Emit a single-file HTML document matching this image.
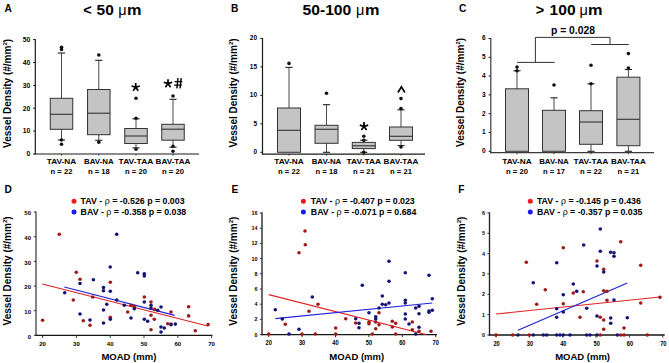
<!DOCTYPE html><html><head><meta charset="utf-8"><style>html,body{margin:0;padding:0;background:#fff;width:669px;height:363px;overflow:hidden}svg{display:block}text{font-family:"Liberation Sans",sans-serif}</style></head><body>
<svg width="669" height="363" viewBox="0 0 669 363">
<rect width="669" height="363" fill="#fff"/>
<line x1="35.30" y1="38.90" x2="35.30" y2="154.60" stroke="#1a1a1a" stroke-width="1.2"/>
<line x1="34.70" y1="154.00" x2="199.00" y2="154.00" stroke="#1a1a1a" stroke-width="1.2"/>
<line x1="33.10" y1="154.00" x2="35.30" y2="154.00" stroke="#1a1a1a" stroke-width="1.0"/>
<text x="30.20" y="156.41" font-size="6.7" text-anchor="end" font-weight="bold" fill="#000" >0</text>
<line x1="33.10" y1="131.00" x2="35.30" y2="131.00" stroke="#1a1a1a" stroke-width="1.0"/>
<text x="30.20" y="133.41" font-size="6.7" text-anchor="end" font-weight="bold" fill="#000" >10</text>
<line x1="33.10" y1="108.20" x2="35.30" y2="108.20" stroke="#1a1a1a" stroke-width="1.0"/>
<text x="30.20" y="110.61" font-size="6.7" text-anchor="end" font-weight="bold" fill="#000" >20</text>
<line x1="33.10" y1="85.40" x2="35.30" y2="85.40" stroke="#1a1a1a" stroke-width="1.0"/>
<text x="30.20" y="87.81" font-size="6.7" text-anchor="end" font-weight="bold" fill="#000" >30</text>
<line x1="33.10" y1="62.50" x2="35.30" y2="62.50" stroke="#1a1a1a" stroke-width="1.0"/>
<text x="30.20" y="64.91" font-size="6.7" text-anchor="end" font-weight="bold" fill="#000" >40</text>
<line x1="33.10" y1="39.60" x2="35.30" y2="39.60" stroke="#1a1a1a" stroke-width="1.0"/>
<text x="30.20" y="42.01" font-size="6.7" text-anchor="end" font-weight="bold" fill="#000" >50</text>
<line x1="61.50" y1="154.00" x2="61.50" y2="155.60" stroke="#1a1a1a" stroke-width="0.8"/>
<line x1="61.50" y1="53.00" x2="61.50" y2="98.30" stroke="#4a4a4a" stroke-width="1"/>
<line x1="57.90" y1="53.00" x2="65.10" y2="53.00" stroke="#222" stroke-width="1.1"/>
<line x1="61.50" y1="129.30" x2="61.50" y2="140.00" stroke="#4a4a4a" stroke-width="1"/>
<line x1="57.90" y1="140.00" x2="65.10" y2="140.00" stroke="#222" stroke-width="1.1"/>
<rect x="50.25" y="98.30" width="22.50" height="31.00" fill="#c4c4c4" stroke="#333" stroke-width="1"/>
<line x1="50.25" y1="114.30" x2="72.75" y2="114.30" stroke="#333" stroke-width="1.1"/>
<circle cx="61.50" cy="47.30" r="1.8" fill="#111"/>
<circle cx="61.50" cy="49.40" r="1.8" fill="#111"/>
<circle cx="61.50" cy="140.00" r="1.8" fill="#111"/>
<circle cx="61.50" cy="144.30" r="1.8" fill="#111"/>
<text x="61.50" y="163.80" font-size="7.6" text-anchor="middle" font-weight="bold" fill="#000"  textLength="29.60" lengthAdjust="spacingAndGlyphs">TAV-NA</text>
<text x="61.50" y="173.50" font-size="7.6" text-anchor="middle" font-weight="bold" fill="#000"  textLength="21.80" lengthAdjust="spacingAndGlyphs">n = 22</text>
<line x1="98.80" y1="154.00" x2="98.80" y2="155.60" stroke="#1a1a1a" stroke-width="0.8"/>
<line x1="98.80" y1="60.30" x2="98.80" y2="89.50" stroke="#4a4a4a" stroke-width="1"/>
<line x1="95.20" y1="60.30" x2="102.40" y2="60.30" stroke="#222" stroke-width="1.1"/>
<line x1="98.80" y1="134.70" x2="98.80" y2="140.30" stroke="#4a4a4a" stroke-width="1"/>
<line x1="95.20" y1="140.30" x2="102.40" y2="140.30" stroke="#222" stroke-width="1.1"/>
<rect x="87.55" y="89.50" width="22.50" height="45.20" fill="#c4c4c4" stroke="#333" stroke-width="1"/>
<line x1="87.55" y1="113.20" x2="110.05" y2="113.20" stroke="#333" stroke-width="1.1"/>
<circle cx="98.80" cy="55.00" r="1.8" fill="#111"/>
<circle cx="98.80" cy="142.30" r="1.8" fill="#111"/>
<text x="98.80" y="163.80" font-size="7.6" text-anchor="middle" font-weight="bold" fill="#000"  textLength="29.60" lengthAdjust="spacingAndGlyphs">BAV-NA</text>
<text x="98.80" y="173.50" font-size="7.6" text-anchor="middle" font-weight="bold" fill="#000"  textLength="21.80" lengthAdjust="spacingAndGlyphs">n = 18</text>
<line x1="136.00" y1="154.00" x2="136.00" y2="155.60" stroke="#1a1a1a" stroke-width="0.8"/>
<line x1="136.00" y1="118.80" x2="136.00" y2="128.50" stroke="#4a4a4a" stroke-width="1"/>
<line x1="132.40" y1="118.80" x2="139.60" y2="118.80" stroke="#222" stroke-width="1.1"/>
<line x1="136.00" y1="143.50" x2="136.00" y2="147.90" stroke="#4a4a4a" stroke-width="1"/>
<line x1="132.40" y1="147.90" x2="139.60" y2="147.90" stroke="#222" stroke-width="1.1"/>
<rect x="124.75" y="128.50" width="22.50" height="15.00" fill="#c4c4c4" stroke="#333" stroke-width="1"/>
<line x1="124.75" y1="136.00" x2="147.25" y2="136.00" stroke="#333" stroke-width="1.1"/>
<circle cx="136.00" cy="98.30" r="1.8" fill="#111"/>
<circle cx="136.00" cy="118.30" r="1.8" fill="#111"/>
<circle cx="136.00" cy="149.30" r="1.8" fill="#111"/>
<text x="136.00" y="163.80" font-size="7.6" text-anchor="middle" font-weight="bold" fill="#000"  textLength="34.80" lengthAdjust="spacingAndGlyphs">TAV-TAA</text>
<text x="136.00" y="173.50" font-size="7.6" text-anchor="middle" font-weight="bold" fill="#000"  textLength="21.80" lengthAdjust="spacingAndGlyphs">n = 20</text>
<line x1="173.00" y1="154.00" x2="173.00" y2="155.60" stroke="#1a1a1a" stroke-width="0.8"/>
<line x1="173.00" y1="99.30" x2="173.00" y2="124.30" stroke="#4a4a4a" stroke-width="1"/>
<line x1="169.40" y1="99.30" x2="176.60" y2="99.30" stroke="#222" stroke-width="1.1"/>
<line x1="173.00" y1="140.20" x2="173.00" y2="147.20" stroke="#4a4a4a" stroke-width="1"/>
<line x1="169.40" y1="147.20" x2="176.60" y2="147.20" stroke="#222" stroke-width="1.1"/>
<rect x="161.75" y="124.30" width="22.50" height="15.90" fill="#c4c4c4" stroke="#333" stroke-width="1"/>
<line x1="161.75" y1="129.20" x2="184.25" y2="129.20" stroke="#333" stroke-width="1.1"/>
<circle cx="173.00" cy="96.00" r="1.8" fill="#111"/>
<circle cx="173.00" cy="146.20" r="1.8" fill="#111"/>
<circle cx="173.00" cy="151.30" r="1.8" fill="#111"/>
<text x="173.00" y="163.80" font-size="7.6" text-anchor="middle" font-weight="bold" fill="#000"  textLength="34.80" lengthAdjust="spacingAndGlyphs">BAV-TAA</text>
<text x="173.00" y="173.50" font-size="7.6" text-anchor="middle" font-weight="bold" fill="#000"  textLength="21.80" lengthAdjust="spacingAndGlyphs">n = 20</text>
<text x="4.50" y="11.80" font-size="10.2" text-anchor="start" font-weight="bold" fill="#000" >A</text>
<text x="83.30" y="15.00" font-size="14.5" text-anchor="start" font-weight="bold" fill="#000" >&lt;</text>
<text x="96.60" y="15.00" font-size="14.5" text-anchor="start" font-weight="bold" fill="#000"  textLength="17.20" lengthAdjust="spacingAndGlyphs">50</text>
<text x="118.20" y="15.00" font-size="14.5" text-anchor="start" font-weight="normal" fill="#000" >μ</text>
<text x="127.10" y="15.00" font-size="14.5" text-anchor="start" font-weight="bold" fill="#000"  textLength="14.50" lengthAdjust="spacingAndGlyphs">m</text>
<text transform="translate(10.90,93.35) rotate(-90)" font-size="10.0" font-weight="bold" text-anchor="middle">Vessel Density (#/mm<tspan font-size="6.20" dy="-3.80">2</tspan><tspan dy="3.80">)</tspan></text>
<line x1="262.50" y1="37.90" x2="262.50" y2="154.70" stroke="#1a1a1a" stroke-width="1.2"/>
<line x1="261.90" y1="154.10" x2="425.00" y2="154.10" stroke="#1a1a1a" stroke-width="1.2"/>
<line x1="260.30" y1="152.30" x2="262.50" y2="152.30" stroke="#1a1a1a" stroke-width="1.0"/>
<text x="257.00" y="154.25" font-size="6.5" text-anchor="end" font-weight="bold" fill="#000" >0</text>
<line x1="260.30" y1="123.85" x2="262.50" y2="123.85" stroke="#1a1a1a" stroke-width="1.0"/>
<text x="257.00" y="125.80" font-size="6.5" text-anchor="end" font-weight="bold" fill="#000" >5</text>
<line x1="260.30" y1="95.40" x2="262.50" y2="95.40" stroke="#1a1a1a" stroke-width="1.0"/>
<text x="257.00" y="97.35" font-size="6.5" text-anchor="end" font-weight="bold" fill="#000" >10</text>
<line x1="260.30" y1="66.95" x2="262.50" y2="66.95" stroke="#1a1a1a" stroke-width="1.0"/>
<text x="257.00" y="68.90" font-size="6.5" text-anchor="end" font-weight="bold" fill="#000" >15</text>
<line x1="260.30" y1="38.50" x2="262.50" y2="38.50" stroke="#1a1a1a" stroke-width="1.0"/>
<text x="257.00" y="40.45" font-size="6.5" text-anchor="end" font-weight="bold" fill="#000" >20</text>
<line x1="289.00" y1="154.10" x2="289.00" y2="155.70" stroke="#1a1a1a" stroke-width="0.8"/>
<line x1="289.00" y1="67.40" x2="289.00" y2="108.00" stroke="#4a4a4a" stroke-width="1"/>
<line x1="285.40" y1="67.40" x2="292.60" y2="67.40" stroke="#222" stroke-width="1.1"/>
<rect x="277.50" y="108.00" width="23.00" height="44.30" fill="#c4c4c4" stroke="#333" stroke-width="1"/>
<line x1="277.50" y1="130.30" x2="300.50" y2="130.30" stroke="#333" stroke-width="1.1"/>
<circle cx="289.00" cy="63.40" r="1.8" fill="#111"/>
<text x="289.00" y="163.90" font-size="7.6" text-anchor="middle" font-weight="bold" fill="#000"  textLength="29.60" lengthAdjust="spacingAndGlyphs">TAV-NA</text>
<text x="289.00" y="173.60" font-size="7.6" text-anchor="middle" font-weight="bold" fill="#000"  textLength="21.80" lengthAdjust="spacingAndGlyphs">n = 22</text>
<line x1="326.50" y1="154.10" x2="326.50" y2="155.70" stroke="#1a1a1a" stroke-width="0.8"/>
<line x1="326.50" y1="104.70" x2="326.50" y2="125.30" stroke="#4a4a4a" stroke-width="1"/>
<line x1="322.90" y1="104.70" x2="330.10" y2="104.70" stroke="#222" stroke-width="1.1"/>
<line x1="326.50" y1="143.30" x2="326.50" y2="152.30" stroke="#4a4a4a" stroke-width="1"/>
<line x1="322.90" y1="152.30" x2="330.10" y2="152.30" stroke="#222" stroke-width="1.1"/>
<rect x="315.00" y="125.30" width="23.00" height="18.00" fill="#c4c4c4" stroke="#333" stroke-width="1"/>
<line x1="315.00" y1="129.30" x2="338.00" y2="129.30" stroke="#333" stroke-width="1.1"/>
<circle cx="326.50" cy="93.30" r="1.8" fill="#111"/>
<text x="326.50" y="163.90" font-size="7.6" text-anchor="middle" font-weight="bold" fill="#000"  textLength="29.60" lengthAdjust="spacingAndGlyphs">BAV-NA</text>
<text x="326.50" y="173.60" font-size="7.6" text-anchor="middle" font-weight="bold" fill="#000"  textLength="21.80" lengthAdjust="spacingAndGlyphs">n = 18</text>
<line x1="363.80" y1="154.10" x2="363.80" y2="155.70" stroke="#1a1a1a" stroke-width="0.8"/>
<line x1="363.80" y1="140.20" x2="363.80" y2="142.40" stroke="#4a4a4a" stroke-width="1"/>
<line x1="360.20" y1="140.20" x2="367.40" y2="140.20" stroke="#222" stroke-width="1.1"/>
<line x1="363.80" y1="148.60" x2="363.80" y2="152.30" stroke="#4a4a4a" stroke-width="1"/>
<line x1="360.20" y1="152.30" x2="367.40" y2="152.30" stroke="#222" stroke-width="1.1"/>
<rect x="352.30" y="142.40" width="23.00" height="6.20" fill="#c4c4c4" stroke="#333" stroke-width="1"/>
<line x1="352.30" y1="145.80" x2="375.30" y2="145.80" stroke="#333" stroke-width="1.1"/>
<circle cx="363.80" cy="136.30" r="1.8" fill="#111"/>
<circle cx="363.80" cy="140.20" r="1.8" fill="#111"/>
<circle cx="363.80" cy="152.30" r="1.8" fill="#111"/>
<text x="363.80" y="163.90" font-size="7.6" text-anchor="middle" font-weight="bold" fill="#000"  textLength="34.80" lengthAdjust="spacingAndGlyphs">TAV-TAA</text>
<text x="363.80" y="173.60" font-size="7.6" text-anchor="middle" font-weight="bold" fill="#000"  textLength="21.80" lengthAdjust="spacingAndGlyphs">n = 21</text>
<line x1="401.00" y1="154.10" x2="401.00" y2="155.70" stroke="#1a1a1a" stroke-width="0.8"/>
<line x1="401.00" y1="109.80" x2="401.00" y2="127.00" stroke="#4a4a4a" stroke-width="1"/>
<line x1="397.40" y1="109.80" x2="404.60" y2="109.80" stroke="#222" stroke-width="1.1"/>
<line x1="401.00" y1="140.30" x2="401.00" y2="145.60" stroke="#4a4a4a" stroke-width="1"/>
<line x1="397.40" y1="145.60" x2="404.60" y2="145.60" stroke="#222" stroke-width="1.1"/>
<rect x="389.50" y="127.00" width="23.00" height="13.30" fill="#c4c4c4" stroke="#333" stroke-width="1"/>
<line x1="389.50" y1="136.30" x2="412.50" y2="136.30" stroke="#333" stroke-width="1.1"/>
<circle cx="401.00" cy="98.60" r="1.8" fill="#111"/>
<circle cx="401.00" cy="108.60" r="1.8" fill="#111"/>
<circle cx="401.00" cy="147.00" r="1.8" fill="#111"/>
<text x="401.00" y="163.90" font-size="7.6" text-anchor="middle" font-weight="bold" fill="#000"  textLength="34.80" lengthAdjust="spacingAndGlyphs">BAV-TAA</text>
<text x="401.00" y="173.60" font-size="7.6" text-anchor="middle" font-weight="bold" fill="#000"  textLength="21.80" lengthAdjust="spacingAndGlyphs">n = 21</text>
<text x="231.00" y="11.80" font-size="10.2" text-anchor="start" font-weight="bold" fill="#000" >B</text>
<text x="302.50" y="15.00" font-size="14.5" text-anchor="start" font-weight="bold" fill="#000"  textLength="48.80" lengthAdjust="spacingAndGlyphs">50-100</text>
<text x="356.00" y="15.00" font-size="14.5" text-anchor="start" font-weight="normal" fill="#000" >μ</text>
<text x="365.00" y="15.00" font-size="14.5" text-anchor="start" font-weight="bold" fill="#000"  textLength="14.50" lengthAdjust="spacingAndGlyphs">m</text>
<text transform="translate(237.10,92.85) rotate(-90)" font-size="10.0" font-weight="bold" text-anchor="middle">Vessel Density (#/mm<tspan font-size="6.20" dy="-3.80">2</tspan><tspan dy="3.80">)</tspan></text>
<line x1="490.80" y1="37.90" x2="490.80" y2="153.30" stroke="#3a3a3a" stroke-width="1.2"/>
<line x1="490.20" y1="152.70" x2="654.00" y2="152.70" stroke="#3a3a3a" stroke-width="1.2"/>
<line x1="488.60" y1="151.30" x2="490.80" y2="151.30" stroke="#1a1a1a" stroke-width="1.0"/>
<text x="485.60" y="153.25" font-size="6.5" text-anchor="end" font-weight="bold" fill="#000" >0</text>
<line x1="488.60" y1="132.50" x2="490.80" y2="132.50" stroke="#1a1a1a" stroke-width="1.0"/>
<text x="485.60" y="134.45" font-size="6.5" text-anchor="end" font-weight="bold" fill="#000" >1</text>
<line x1="488.60" y1="113.70" x2="490.80" y2="113.70" stroke="#1a1a1a" stroke-width="1.0"/>
<text x="485.60" y="115.65" font-size="6.5" text-anchor="end" font-weight="bold" fill="#000" >2</text>
<line x1="488.60" y1="94.90" x2="490.80" y2="94.90" stroke="#1a1a1a" stroke-width="1.0"/>
<text x="485.60" y="96.85" font-size="6.5" text-anchor="end" font-weight="bold" fill="#000" >3</text>
<line x1="488.60" y1="76.10" x2="490.80" y2="76.10" stroke="#1a1a1a" stroke-width="1.0"/>
<text x="485.60" y="78.05" font-size="6.5" text-anchor="end" font-weight="bold" fill="#000" >4</text>
<line x1="488.60" y1="57.30" x2="490.80" y2="57.30" stroke="#1a1a1a" stroke-width="1.0"/>
<text x="485.60" y="59.25" font-size="6.5" text-anchor="end" font-weight="bold" fill="#000" >5</text>
<line x1="488.60" y1="38.50" x2="490.80" y2="38.50" stroke="#1a1a1a" stroke-width="1.0"/>
<text x="485.60" y="40.45" font-size="6.5" text-anchor="end" font-weight="bold" fill="#000" >6</text>
<line x1="517.00" y1="152.70" x2="517.00" y2="154.30" stroke="#1a1a1a" stroke-width="0.8"/>
<line x1="517.00" y1="70.80" x2="517.00" y2="88.80" stroke="#4a4a4a" stroke-width="1"/>
<line x1="513.40" y1="70.80" x2="520.60" y2="70.80" stroke="#222" stroke-width="1.1"/>
<rect x="505.50" y="88.80" width="23.00" height="62.50" fill="#c4c4c4" stroke="#333" stroke-width="1"/>
<circle cx="517.00" cy="67.10" r="1.8" fill="#111"/>
<circle cx="517.00" cy="70.80" r="1.8" fill="#111"/>
<text x="517.00" y="163.90" font-size="7.6" text-anchor="middle" font-weight="bold" fill="#000"  textLength="29.60" lengthAdjust="spacingAndGlyphs">TAV-NA</text>
<text x="517.00" y="173.60" font-size="7.6" text-anchor="middle" font-weight="bold" fill="#000"  textLength="21.80" lengthAdjust="spacingAndGlyphs">n = 20</text>
<line x1="554.00" y1="152.70" x2="554.00" y2="154.30" stroke="#1a1a1a" stroke-width="0.8"/>
<line x1="554.00" y1="97.80" x2="554.00" y2="110.30" stroke="#4a4a4a" stroke-width="1"/>
<line x1="550.40" y1="97.80" x2="557.60" y2="97.80" stroke="#222" stroke-width="1.1"/>
<rect x="542.50" y="110.30" width="23.00" height="41.00" fill="#c4c4c4" stroke="#333" stroke-width="1"/>
<circle cx="554.00" cy="85.00" r="1.8" fill="#111"/>
<text x="554.00" y="163.90" font-size="7.6" text-anchor="middle" font-weight="bold" fill="#000"  textLength="29.60" lengthAdjust="spacingAndGlyphs">BAV-NA</text>
<text x="554.00" y="173.60" font-size="7.6" text-anchor="middle" font-weight="bold" fill="#000"  textLength="21.80" lengthAdjust="spacingAndGlyphs">n = 17</text>
<line x1="591.00" y1="152.70" x2="591.00" y2="154.30" stroke="#1a1a1a" stroke-width="0.8"/>
<line x1="591.00" y1="83.80" x2="591.00" y2="110.70" stroke="#4a4a4a" stroke-width="1"/>
<line x1="587.40" y1="83.80" x2="594.60" y2="83.80" stroke="#222" stroke-width="1.1"/>
<line x1="591.00" y1="144.30" x2="591.00" y2="151.30" stroke="#4a4a4a" stroke-width="1"/>
<line x1="587.40" y1="151.30" x2="594.60" y2="151.30" stroke="#222" stroke-width="1.1"/>
<rect x="579.50" y="110.70" width="23.00" height="33.60" fill="#c4c4c4" stroke="#333" stroke-width="1"/>
<line x1="579.50" y1="122.00" x2="602.50" y2="122.00" stroke="#333" stroke-width="1.1"/>
<circle cx="591.00" cy="65.30" r="1.8" fill="#111"/>
<circle cx="591.00" cy="83.80" r="1.8" fill="#111"/>
<text x="591.00" y="163.90" font-size="7.6" text-anchor="middle" font-weight="bold" fill="#000"  textLength="34.80" lengthAdjust="spacingAndGlyphs">TAV-TAA</text>
<text x="591.00" y="173.60" font-size="7.6" text-anchor="middle" font-weight="bold" fill="#000"  textLength="21.80" lengthAdjust="spacingAndGlyphs">n = 22</text>
<line x1="628.40" y1="152.70" x2="628.40" y2="154.30" stroke="#1a1a1a" stroke-width="0.8"/>
<line x1="628.40" y1="69.50" x2="628.40" y2="77.20" stroke="#4a4a4a" stroke-width="1"/>
<line x1="624.80" y1="69.50" x2="632.00" y2="69.50" stroke="#222" stroke-width="1.1"/>
<line x1="628.40" y1="145.70" x2="628.40" y2="151.30" stroke="#4a4a4a" stroke-width="1"/>
<line x1="624.80" y1="151.30" x2="632.00" y2="151.30" stroke="#222" stroke-width="1.1"/>
<rect x="616.90" y="77.20" width="23.00" height="68.50" fill="#c4c4c4" stroke="#333" stroke-width="1"/>
<line x1="616.90" y1="119.30" x2="639.90" y2="119.30" stroke="#333" stroke-width="1.1"/>
<circle cx="628.40" cy="53.60" r="1.8" fill="#111"/>
<circle cx="628.40" cy="68.00" r="1.8" fill="#111"/>
<text x="628.40" y="163.90" font-size="7.6" text-anchor="middle" font-weight="bold" fill="#000"  textLength="34.80" lengthAdjust="spacingAndGlyphs">BAV-TAA</text>
<text x="628.40" y="173.60" font-size="7.6" text-anchor="middle" font-weight="bold" fill="#000"  textLength="21.80" lengthAdjust="spacingAndGlyphs">n = 21</text>
<text x="459.00" y="11.80" font-size="10.2" text-anchor="start" font-weight="bold" fill="#000" >C</text>
<text x="535.80" y="15.00" font-size="14.5" text-anchor="start" font-weight="bold" fill="#000" >&gt;</text>
<text x="549.60" y="15.00" font-size="14.5" text-anchor="start" font-weight="bold" fill="#000"  textLength="26.00" lengthAdjust="spacingAndGlyphs">100</text>
<text x="579.60" y="15.00" font-size="14.5" text-anchor="start" font-weight="normal" fill="#000" >μ</text>
<text x="587.90" y="15.00" font-size="14.5" text-anchor="start" font-weight="bold" fill="#000"  textLength="14.50" lengthAdjust="spacingAndGlyphs">m</text>
<text transform="translate(464.10,92.45) rotate(-90)" font-size="10.0" font-weight="bold" text-anchor="middle">Vessel Density (#/mm<tspan font-size="6.20" dy="-3.80">2</tspan><tspan dy="3.80">)</tspan></text>
<path d="M135.70 87.30L135.70 82.90M135.70 87.30L139.88 85.94M135.70 87.30L138.29 90.86M135.70 87.30L133.11 90.86M135.70 87.30L131.52 85.94" stroke="#000" stroke-width="1.7" stroke-linecap="butt" fill="none"/>
<path d="M168.00 83.60L168.00 79.20M168.00 83.60L172.18 82.24M168.00 83.60L170.59 87.16M168.00 83.60L165.41 87.16M168.00 83.60L163.82 82.24" stroke="#000" stroke-width="1.7" stroke-linecap="butt" fill="none"/>
<path d="M176.9 88.4L178.0 78.2M180.1 88.4L181.2 78.2M174.6 81.6H182.2M174.2 85.1H181.8" stroke="#000" stroke-width="1.45" fill="none"/>
<path d="M364.00 126.50L364.00 122.10M364.00 126.50L368.18 125.14M364.00 126.50L366.59 130.06M364.00 126.50L361.41 130.06M364.00 126.50L359.82 125.14" stroke="#000" stroke-width="1.7" stroke-linecap="butt" fill="none"/>
<path d="M397.9 92.5L401.4 86.9L404.9 92.5" stroke="#000" stroke-width="1.7" fill="none"/>
<line x1="517.00" y1="62.40" x2="554.70" y2="62.40" stroke="#333" stroke-width="1"/>
<line x1="535.40" y1="37.40" x2="535.40" y2="62.40" stroke="#333" stroke-width="1"/>
<line x1="535.40" y1="37.40" x2="610.00" y2="37.40" stroke="#333" stroke-width="1"/>
<line x1="610.00" y1="37.40" x2="610.00" y2="44.50" stroke="#333" stroke-width="1"/>
<line x1="591.20" y1="44.50" x2="628.70" y2="44.50" stroke="#333" stroke-width="1"/>
<text x="573.00" y="34.30" font-size="10.3" text-anchor="middle" font-weight="bold" fill="#000" >p = 0.028</text>
<line x1="36.00" y1="211.40" x2="36.00" y2="336.00" stroke="#4a4a4a" stroke-width="1.35"/>
<line x1="35.40" y1="335.30" x2="212.50" y2="335.30" stroke="#151515" stroke-width="1.35"/>
<line x1="33.90" y1="335.30" x2="36.00" y2="335.30" stroke="#333" stroke-width="1.0"/>
<text x="31.00" y="338.60" font-size="6.0" text-anchor="end" font-weight="bold" fill="#000" >0</text>
<line x1="33.90" y1="310.70" x2="36.00" y2="310.70" stroke="#333" stroke-width="1.0"/>
<text x="31.00" y="314.00" font-size="6.0" text-anchor="end" font-weight="bold" fill="#000" >10</text>
<line x1="33.90" y1="286.00" x2="36.00" y2="286.00" stroke="#333" stroke-width="1.0"/>
<text x="31.00" y="289.30" font-size="6.0" text-anchor="end" font-weight="bold" fill="#000" >20</text>
<line x1="33.90" y1="261.40" x2="36.00" y2="261.40" stroke="#333" stroke-width="1.0"/>
<text x="31.00" y="264.70" font-size="6.0" text-anchor="end" font-weight="bold" fill="#000" >30</text>
<line x1="33.90" y1="236.70" x2="36.00" y2="236.70" stroke="#333" stroke-width="1.0"/>
<text x="31.00" y="240.00" font-size="6.0" text-anchor="end" font-weight="bold" fill="#000" >40</text>
<line x1="33.90" y1="212.10" x2="36.00" y2="212.10" stroke="#333" stroke-width="1.0"/>
<text x="31.00" y="215.40" font-size="6.0" text-anchor="end" font-weight="bold" fill="#000" >50</text>
<line x1="42.60" y1="335.30" x2="42.60" y2="337.90" stroke="#333" stroke-width="1.0"/>
<text transform="translate(42.60,346.00) scale(1.0,1)" font-size="6.0" text-anchor="middle" font-weight="bold">20</text>
<line x1="76.40" y1="335.30" x2="76.40" y2="337.90" stroke="#333" stroke-width="1.0"/>
<text transform="translate(76.40,346.00) scale(1.0,1)" font-size="6.0" text-anchor="middle" font-weight="bold">30</text>
<line x1="110.20" y1="335.30" x2="110.20" y2="337.90" stroke="#333" stroke-width="1.0"/>
<text transform="translate(110.20,346.00) scale(1.0,1)" font-size="6.0" text-anchor="middle" font-weight="bold">40</text>
<line x1="144.00" y1="335.30" x2="144.00" y2="337.90" stroke="#333" stroke-width="1.0"/>
<text transform="translate(144.00,346.00) scale(1.0,1)" font-size="6.0" text-anchor="middle" font-weight="bold">50</text>
<line x1="177.80" y1="335.30" x2="177.80" y2="337.90" stroke="#333" stroke-width="1.0"/>
<text transform="translate(177.80,346.00) scale(1.0,1)" font-size="6.0" text-anchor="middle" font-weight="bold">60</text>
<line x1="211.60" y1="335.30" x2="211.60" y2="337.90" stroke="#333" stroke-width="1.0"/>
<text transform="translate(211.60,346.00) scale(1.0,1)" font-size="6.0" text-anchor="middle" font-weight="bold">70</text>
<line x1="42.30" y1="284.00" x2="207.70" y2="326.00" stroke="#e02424" stroke-width="1.2"/>
<line x1="64.30" y1="287.00" x2="174.80" y2="315.40" stroke="#2424d8" stroke-width="1.2"/>
<circle cx="42.60" cy="320.30" r="1.8" fill="#a01a1a"/>
<circle cx="76.30" cy="272.20" r="1.8" fill="#a01a1a"/>
<circle cx="80.00" cy="279.30" r="1.8" fill="#a01a1a"/>
<circle cx="73.30" cy="300.00" r="1.8" fill="#a01a1a"/>
<circle cx="83.30" cy="320.70" r="1.8" fill="#a01a1a"/>
<circle cx="90.00" cy="325.30" r="1.8" fill="#a01a1a"/>
<circle cx="92.70" cy="297.00" r="1.8" fill="#a01a1a"/>
<circle cx="110.30" cy="282.30" r="1.8" fill="#a01a1a"/>
<circle cx="110.30" cy="317.30" r="1.8" fill="#a01a1a"/>
<circle cx="59.30" cy="234.30" r="1.8" fill="#a01a1a"/>
<circle cx="144.30" cy="297.00" r="1.8" fill="#a01a1a"/>
<circle cx="151.00" cy="302.00" r="1.8" fill="#a01a1a"/>
<circle cx="131.00" cy="305.30" r="1.8" fill="#a01a1a"/>
<circle cx="134.30" cy="306.30" r="1.8" fill="#a01a1a"/>
<circle cx="127.70" cy="312.00" r="1.8" fill="#a01a1a"/>
<circle cx="151.00" cy="315.30" r="1.8" fill="#a01a1a"/>
<circle cx="154.30" cy="319.30" r="1.8" fill="#a01a1a"/>
<circle cx="154.60" cy="309.40" r="1.8" fill="#a01a1a"/>
<circle cx="151.00" cy="329.70" r="1.8" fill="#a01a1a"/>
<circle cx="171.00" cy="312.00" r="1.8" fill="#a01a1a"/>
<circle cx="167.70" cy="323.70" r="1.8" fill="#a01a1a"/>
<circle cx="171.00" cy="324.00" r="1.8" fill="#a01a1a"/>
<circle cx="188.60" cy="306.70" r="1.8" fill="#a01a1a"/>
<circle cx="188.60" cy="315.90" r="1.8" fill="#a01a1a"/>
<circle cx="195.30" cy="330.80" r="1.8" fill="#a01a1a"/>
<circle cx="208.10" cy="324.60" r="1.8" fill="#a01a1a"/>
<circle cx="116.70" cy="234.30" r="1.8" fill="#141478"/>
<circle cx="110.20" cy="267.00" r="1.8" fill="#141478"/>
<circle cx="64.70" cy="292.70" r="1.8" fill="#141478"/>
<circle cx="80.00" cy="283.50" r="1.8" fill="#141478"/>
<circle cx="80.00" cy="314.00" r="1.8" fill="#141478"/>
<circle cx="90.00" cy="320.00" r="1.8" fill="#141478"/>
<circle cx="93.40" cy="279.80" r="1.8" fill="#141478"/>
<circle cx="103.50" cy="287.50" r="1.8" fill="#141478"/>
<circle cx="103.50" cy="290.70" r="1.8" fill="#141478"/>
<circle cx="103.50" cy="310.00" r="1.8" fill="#141478"/>
<circle cx="103.50" cy="323.00" r="1.8" fill="#141478"/>
<circle cx="106.80" cy="304.30" r="1.8" fill="#141478"/>
<circle cx="110.30" cy="291.30" r="1.8" fill="#141478"/>
<circle cx="110.30" cy="319.30" r="1.8" fill="#141478"/>
<circle cx="116.80" cy="300.00" r="1.8" fill="#141478"/>
<circle cx="137.70" cy="272.70" r="1.8" fill="#141478"/>
<circle cx="144.30" cy="273.70" r="1.8" fill="#141478"/>
<circle cx="144.30" cy="276.00" r="1.8" fill="#141478"/>
<circle cx="124.30" cy="305.30" r="1.8" fill="#141478"/>
<circle cx="134.30" cy="308.70" r="1.8" fill="#141478"/>
<circle cx="144.30" cy="302.00" r="1.8" fill="#141478"/>
<circle cx="151.00" cy="305.30" r="1.8" fill="#141478"/>
<circle cx="151.00" cy="308.00" r="1.8" fill="#141478"/>
<circle cx="157.70" cy="310.30" r="1.8" fill="#141478"/>
<circle cx="161.00" cy="307.00" r="1.8" fill="#141478"/>
<circle cx="131.00" cy="318.00" r="1.8" fill="#141478"/>
<circle cx="144.30" cy="319.30" r="1.8" fill="#141478"/>
<circle cx="147.70" cy="321.30" r="1.8" fill="#141478"/>
<circle cx="161.00" cy="327.00" r="1.8" fill="#141478"/>
<circle cx="161.00" cy="332.00" r="1.8" fill="#141478"/>
<circle cx="164.30" cy="328.00" r="1.8" fill="#141478"/>
<circle cx="171.00" cy="324.70" r="1.8" fill="#141478"/>
<circle cx="175.30" cy="324.10" r="1.8" fill="#141478"/>
<text x="128.90" y="359.60" font-size="9.5" text-anchor="middle" font-weight="bold" fill="#000" >MOAD (mm)</text>
<text x="4.50" y="192.70" font-size="10.2" text-anchor="start" font-weight="bold" fill="#000" >D</text>
<circle cx="74.00" cy="201.30" r="2.5" fill="#ee1c1c"/>
<circle cx="74.00" cy="211.90" r="2.5" fill="#1a1ae6"/>
<text x="80.60" y="204.40" font-size="8.8" text-anchor="start" font-weight="bold" fill="#000" >TAV - <tspan font-weight="normal">ρ</tspan> = -0.526 p = 0.003</text>
<text x="80.60" y="215.00" font-size="8.8" text-anchor="start" font-weight="bold" fill="#000" >BAV - <tspan font-weight="normal">ρ</tspan> = -0.358 p = 0.038</text>
<text transform="translate(11.10,270.85) rotate(-90)" font-size="10.0" font-weight="bold" text-anchor="middle">Vessel Density (#/mm<tspan font-size="6.20" dy="-3.80">2</tspan><tspan dy="3.80">)</tspan></text>
<line x1="262.00" y1="212.30" x2="262.00" y2="335.30" stroke="#222" stroke-width="1.35"/>
<line x1="261.40" y1="334.60" x2="437.00" y2="334.60" stroke="#151515" stroke-width="1.35"/>
<line x1="259.90" y1="334.60" x2="262.00" y2="334.60" stroke="#333" stroke-width="1.0"/>
<text x="257.60" y="336.54" font-size="5.4" text-anchor="end" font-weight="bold" fill="#000" >0</text>
<line x1="259.90" y1="319.40" x2="262.00" y2="319.40" stroke="#333" stroke-width="1.0"/>
<text x="257.60" y="321.34" font-size="5.4" text-anchor="end" font-weight="bold" fill="#000" >2</text>
<line x1="259.90" y1="304.20" x2="262.00" y2="304.20" stroke="#333" stroke-width="1.0"/>
<text x="257.60" y="306.14" font-size="5.4" text-anchor="end" font-weight="bold" fill="#000" >4</text>
<line x1="259.90" y1="289.00" x2="262.00" y2="289.00" stroke="#333" stroke-width="1.0"/>
<text x="257.60" y="290.94" font-size="5.4" text-anchor="end" font-weight="bold" fill="#000" >6</text>
<line x1="259.90" y1="273.80" x2="262.00" y2="273.80" stroke="#333" stroke-width="1.0"/>
<text x="257.60" y="275.74" font-size="5.4" text-anchor="end" font-weight="bold" fill="#000" >8</text>
<line x1="259.90" y1="258.60" x2="262.00" y2="258.60" stroke="#333" stroke-width="1.0"/>
<text x="257.60" y="260.54" font-size="5.4" text-anchor="end" font-weight="bold" fill="#000" >10</text>
<line x1="259.90" y1="243.40" x2="262.00" y2="243.40" stroke="#333" stroke-width="1.0"/>
<text x="257.60" y="245.34" font-size="5.4" text-anchor="end" font-weight="bold" fill="#000" >12</text>
<line x1="259.90" y1="228.20" x2="262.00" y2="228.20" stroke="#333" stroke-width="1.0"/>
<text x="257.60" y="230.14" font-size="5.4" text-anchor="end" font-weight="bold" fill="#000" >14</text>
<line x1="259.90" y1="213.00" x2="262.00" y2="213.00" stroke="#333" stroke-width="1.0"/>
<text x="257.60" y="214.94" font-size="5.4" text-anchor="end" font-weight="bold" fill="#000" >16</text>
<line x1="268.70" y1="334.60" x2="268.70" y2="337.20" stroke="#333" stroke-width="1.0"/>
<text transform="translate(268.70,345.20) scale(0.86,1)" font-size="6.6" text-anchor="middle" font-weight="bold">20</text>
<line x1="302.10" y1="334.60" x2="302.10" y2="337.20" stroke="#333" stroke-width="1.0"/>
<text transform="translate(302.10,345.20) scale(0.86,1)" font-size="6.6" text-anchor="middle" font-weight="bold">30</text>
<line x1="335.50" y1="334.60" x2="335.50" y2="337.20" stroke="#333" stroke-width="1.0"/>
<text transform="translate(335.50,345.20) scale(0.86,1)" font-size="6.6" text-anchor="middle" font-weight="bold">40</text>
<line x1="368.90" y1="334.60" x2="368.90" y2="337.20" stroke="#333" stroke-width="1.0"/>
<text transform="translate(368.90,345.20) scale(0.86,1)" font-size="6.6" text-anchor="middle" font-weight="bold">50</text>
<line x1="402.30" y1="334.60" x2="402.30" y2="337.20" stroke="#333" stroke-width="1.0"/>
<text transform="translate(402.30,345.20) scale(0.86,1)" font-size="6.6" text-anchor="middle" font-weight="bold">60</text>
<line x1="435.70" y1="334.60" x2="435.70" y2="337.20" stroke="#333" stroke-width="1.0"/>
<text transform="translate(435.70,345.20) scale(0.86,1)" font-size="6.6" text-anchor="middle" font-weight="bold">70</text>
<line x1="268.70" y1="294.70" x2="425.70" y2="334.50" stroke="#e02424" stroke-width="1.2"/>
<line x1="275.30" y1="318.70" x2="432.30" y2="303.00" stroke="#2424d8" stroke-width="1.2"/>
<circle cx="268.70" cy="334.00" r="1.8" fill="#a01a1a"/>
<circle cx="285.30" cy="324.30" r="1.8" fill="#a01a1a"/>
<circle cx="299.00" cy="252.70" r="1.8" fill="#a01a1a"/>
<circle cx="305.30" cy="244.70" r="1.8" fill="#a01a1a"/>
<circle cx="305.00" cy="231.00" r="1.8" fill="#a01a1a"/>
<circle cx="302.00" cy="334.00" r="1.8" fill="#a01a1a"/>
<circle cx="309.00" cy="311.30" r="1.8" fill="#a01a1a"/>
<circle cx="315.30" cy="334.00" r="1.8" fill="#a01a1a"/>
<circle cx="318.00" cy="304.30" r="1.8" fill="#a01a1a"/>
<circle cx="335.70" cy="328.00" r="1.8" fill="#a01a1a"/>
<circle cx="335.70" cy="334.00" r="1.8" fill="#a01a1a"/>
<circle cx="345.70" cy="318.70" r="1.8" fill="#a01a1a"/>
<circle cx="355.70" cy="323.00" r="1.8" fill="#a01a1a"/>
<circle cx="369.00" cy="323.70" r="1.8" fill="#a01a1a"/>
<circle cx="369.00" cy="322.00" r="1.8" fill="#a01a1a"/>
<circle cx="375.70" cy="322.00" r="1.8" fill="#a01a1a"/>
<circle cx="375.70" cy="328.70" r="1.8" fill="#a01a1a"/>
<circle cx="379.00" cy="312.70" r="1.8" fill="#a01a1a"/>
<circle cx="379.00" cy="324.70" r="1.8" fill="#a01a1a"/>
<circle cx="372.30" cy="334.00" r="1.8" fill="#a01a1a"/>
<circle cx="392.30" cy="321.30" r="1.8" fill="#a01a1a"/>
<circle cx="395.70" cy="323.30" r="1.8" fill="#a01a1a"/>
<circle cx="392.30" cy="327.00" r="1.8" fill="#a01a1a"/>
<circle cx="395.70" cy="334.00" r="1.8" fill="#a01a1a"/>
<circle cx="412.30" cy="322.00" r="1.8" fill="#a01a1a"/>
<circle cx="412.30" cy="329.70" r="1.8" fill="#a01a1a"/>
<circle cx="419.00" cy="331.30" r="1.8" fill="#a01a1a"/>
<circle cx="431.00" cy="331.30" r="1.8" fill="#a01a1a"/>
<circle cx="275.30" cy="309.70" r="1.8" fill="#141478"/>
<circle cx="282.30" cy="319.00" r="1.8" fill="#141478"/>
<circle cx="289.00" cy="334.00" r="1.8" fill="#141478"/>
<circle cx="299.00" cy="329.30" r="1.8" fill="#141478"/>
<circle cx="312.30" cy="297.00" r="1.8" fill="#141478"/>
<circle cx="389.00" cy="261.30" r="1.8" fill="#141478"/>
<circle cx="405.30" cy="272.70" r="1.8" fill="#141478"/>
<circle cx="362.30" cy="285.30" r="1.8" fill="#141478"/>
<circle cx="429.00" cy="275.30" r="1.8" fill="#141478"/>
<circle cx="389.00" cy="281.30" r="1.8" fill="#141478"/>
<circle cx="382.30" cy="296.00" r="1.8" fill="#141478"/>
<circle cx="405.30" cy="300.30" r="1.8" fill="#141478"/>
<circle cx="405.30" cy="303.00" r="1.8" fill="#141478"/>
<circle cx="432.30" cy="298.70" r="1.8" fill="#141478"/>
<circle cx="382.30" cy="304.30" r="1.8" fill="#141478"/>
<circle cx="385.70" cy="304.70" r="1.8" fill="#141478"/>
<circle cx="389.00" cy="303.00" r="1.8" fill="#141478"/>
<circle cx="379.00" cy="308.00" r="1.8" fill="#141478"/>
<circle cx="369.00" cy="312.70" r="1.8" fill="#141478"/>
<circle cx="415.70" cy="308.00" r="1.8" fill="#141478"/>
<circle cx="419.00" cy="306.30" r="1.8" fill="#141478"/>
<circle cx="429.00" cy="311.00" r="1.8" fill="#141478"/>
<circle cx="432.30" cy="310.30" r="1.8" fill="#141478"/>
<circle cx="429.00" cy="312.30" r="1.8" fill="#141478"/>
<circle cx="419.00" cy="313.70" r="1.8" fill="#141478"/>
<circle cx="405.30" cy="314.00" r="1.8" fill="#141478"/>
<circle cx="405.30" cy="319.00" r="1.8" fill="#141478"/>
<circle cx="375.70" cy="316.70" r="1.8" fill="#141478"/>
<circle cx="375.70" cy="319.00" r="1.8" fill="#141478"/>
<circle cx="355.70" cy="318.70" r="1.8" fill="#141478"/>
<circle cx="359.00" cy="323.30" r="1.8" fill="#141478"/>
<circle cx="359.00" cy="327.70" r="1.8" fill="#141478"/>
<circle cx="409.00" cy="324.00" r="1.8" fill="#141478"/>
<circle cx="419.00" cy="327.30" r="1.8" fill="#141478"/>
<circle cx="415.70" cy="334.00" r="1.8" fill="#141478"/>
<text x="356.70" y="359.60" font-size="9.5" text-anchor="middle" font-weight="bold" fill="#000" >MOAD (mm)</text>
<text x="231.50" y="192.70" font-size="10.2" text-anchor="start" font-weight="bold" fill="#000" >E</text>
<circle cx="303.40" cy="201.30" r="2.5" fill="#ee1c1c"/>
<circle cx="303.40" cy="211.90" r="2.5" fill="#1a1ae6"/>
<text x="310.80" y="204.40" font-size="8.8" text-anchor="start" font-weight="bold" fill="#000" >TAV - <tspan font-weight="normal">ρ</tspan> = -0.407 p = 0.023</text>
<text x="310.80" y="215.00" font-size="8.8" text-anchor="start" font-weight="bold" fill="#000" >BAV - <tspan font-weight="normal">ρ</tspan> = -0.071 p = 0.684</text>
<text transform="translate(237.10,271.10) rotate(-90)" font-size="10.0" font-weight="bold" text-anchor="middle">Vessel Density (#/mm<tspan font-size="6.20" dy="-3.80">2</tspan><tspan dy="3.80">)</tspan></text>
<line x1="489.50" y1="212.30" x2="489.50" y2="335.70" stroke="#222" stroke-width="1.35"/>
<line x1="488.90" y1="335.00" x2="664.70" y2="335.00" stroke="#151515" stroke-width="1.35"/>
<line x1="487.40" y1="335.00" x2="489.50" y2="335.00" stroke="#333" stroke-width="1.0"/>
<text x="485.00" y="336.94" font-size="5.4" text-anchor="end" font-weight="bold" fill="#000" >0</text>
<line x1="487.40" y1="314.65" x2="489.50" y2="314.65" stroke="#333" stroke-width="1.0"/>
<text x="485.00" y="316.59" font-size="5.4" text-anchor="end" font-weight="bold" fill="#000" >1</text>
<line x1="487.40" y1="294.30" x2="489.50" y2="294.30" stroke="#333" stroke-width="1.0"/>
<text x="485.00" y="296.24" font-size="5.4" text-anchor="end" font-weight="bold" fill="#000" >2</text>
<line x1="487.40" y1="273.95" x2="489.50" y2="273.95" stroke="#333" stroke-width="1.0"/>
<text x="485.00" y="275.89" font-size="5.4" text-anchor="end" font-weight="bold" fill="#000" >3</text>
<line x1="487.40" y1="253.60" x2="489.50" y2="253.60" stroke="#333" stroke-width="1.0"/>
<text x="485.00" y="255.54" font-size="5.4" text-anchor="end" font-weight="bold" fill="#000" >4</text>
<line x1="487.40" y1="233.25" x2="489.50" y2="233.25" stroke="#333" stroke-width="1.0"/>
<text x="485.00" y="235.19" font-size="5.4" text-anchor="end" font-weight="bold" fill="#000" >5</text>
<line x1="487.40" y1="212.90" x2="489.50" y2="212.90" stroke="#333" stroke-width="1.0"/>
<text x="485.00" y="214.84" font-size="5.4" text-anchor="end" font-weight="bold" fill="#000" >6</text>
<line x1="496.00" y1="335.00" x2="496.00" y2="337.60" stroke="#333" stroke-width="1.0"/>
<text transform="translate(496.60,345.60) scale(0.86,1)" font-size="6.6" text-anchor="middle" font-weight="bold">20</text>
<line x1="529.35" y1="335.00" x2="529.35" y2="337.60" stroke="#333" stroke-width="1.0"/>
<text transform="translate(529.95,345.60) scale(0.86,1)" font-size="6.6" text-anchor="middle" font-weight="bold">30</text>
<line x1="562.70" y1="335.00" x2="562.70" y2="337.60" stroke="#333" stroke-width="1.0"/>
<text transform="translate(563.30,345.60) scale(0.86,1)" font-size="6.6" text-anchor="middle" font-weight="bold">40</text>
<line x1="596.05" y1="335.00" x2="596.05" y2="337.60" stroke="#333" stroke-width="1.0"/>
<text transform="translate(596.65,345.60) scale(0.86,1)" font-size="6.6" text-anchor="middle" font-weight="bold">50</text>
<line x1="629.40" y1="335.00" x2="629.40" y2="337.60" stroke="#333" stroke-width="1.0"/>
<text transform="translate(630.00,345.60) scale(0.86,1)" font-size="6.6" text-anchor="middle" font-weight="bold">60</text>
<line x1="662.75" y1="335.00" x2="662.75" y2="337.60" stroke="#333" stroke-width="1.0"/>
<text transform="translate(663.35,345.60) scale(0.86,1)" font-size="6.6" text-anchor="middle" font-weight="bold">70</text>
<line x1="496.00" y1="314.00" x2="660.00" y2="297.00" stroke="#e02424" stroke-width="1.2"/>
<line x1="518.00" y1="330.30" x2="627.30" y2="283.00" stroke="#2424d8" stroke-width="1.2"/>
<circle cx="496.00" cy="335.00" r="1.8" fill="#a01a1a"/>
<circle cx="512.70" cy="335.00" r="1.8" fill="#a01a1a"/>
<circle cx="526.30" cy="262.30" r="1.8" fill="#a01a1a"/>
<circle cx="529.30" cy="335.00" r="1.8" fill="#a01a1a"/>
<circle cx="536.70" cy="304.30" r="1.8" fill="#a01a1a"/>
<circle cx="545.30" cy="289.70" r="1.8" fill="#a01a1a"/>
<circle cx="563.30" cy="247.70" r="1.8" fill="#a01a1a"/>
<circle cx="563.30" cy="303.70" r="1.8" fill="#a01a1a"/>
<circle cx="597.00" cy="261.00" r="1.8" fill="#a01a1a"/>
<circle cx="603.70" cy="269.30" r="1.8" fill="#a01a1a"/>
<circle cx="640.70" cy="265.30" r="1.8" fill="#a01a1a"/>
<circle cx="573.30" cy="293.00" r="1.8" fill="#a01a1a"/>
<circle cx="583.30" cy="291.70" r="1.8" fill="#a01a1a"/>
<circle cx="603.70" cy="290.70" r="1.8" fill="#a01a1a"/>
<circle cx="607.00" cy="291.30" r="1.8" fill="#a01a1a"/>
<circle cx="607.00" cy="300.30" r="1.8" fill="#a01a1a"/>
<circle cx="640.70" cy="303.00" r="1.8" fill="#a01a1a"/>
<circle cx="660.00" cy="297.30" r="1.8" fill="#a01a1a"/>
<circle cx="580.00" cy="317.30" r="1.8" fill="#a01a1a"/>
<circle cx="600.30" cy="317.30" r="1.8" fill="#a01a1a"/>
<circle cx="603.70" cy="320.00" r="1.8" fill="#a01a1a"/>
<circle cx="603.70" cy="329.30" r="1.8" fill="#a01a1a"/>
<circle cx="624.00" cy="328.00" r="1.8" fill="#a01a1a"/>
<circle cx="620.70" cy="335.00" r="1.8" fill="#a01a1a"/>
<circle cx="624.00" cy="335.00" r="1.8" fill="#a01a1a"/>
<circle cx="600.30" cy="335.00" r="1.8" fill="#a01a1a"/>
<circle cx="647.30" cy="335.00" r="1.8" fill="#a01a1a"/>
<circle cx="620.70" cy="241.70" r="1.8" fill="#a01a1a"/>
<circle cx="518.00" cy="335.00" r="1.8" fill="#141478"/>
<circle cx="533.30" cy="282.70" r="1.8" fill="#141478"/>
<circle cx="533.30" cy="335.00" r="1.8" fill="#141478"/>
<circle cx="543.30" cy="335.00" r="1.8" fill="#141478"/>
<circle cx="546.70" cy="335.00" r="1.8" fill="#141478"/>
<circle cx="556.70" cy="262.70" r="1.8" fill="#141478"/>
<circle cx="556.70" cy="308.70" r="1.8" fill="#141478"/>
<circle cx="556.70" cy="317.30" r="1.8" fill="#141478"/>
<circle cx="556.70" cy="335.00" r="1.8" fill="#141478"/>
<circle cx="560.00" cy="335.00" r="1.8" fill="#141478"/>
<circle cx="563.30" cy="294.70" r="1.8" fill="#141478"/>
<circle cx="563.30" cy="312.00" r="1.8" fill="#141478"/>
<circle cx="563.30" cy="335.00" r="1.8" fill="#141478"/>
<circle cx="570.00" cy="335.00" r="1.8" fill="#141478"/>
<circle cx="600.30" cy="229.00" r="1.8" fill="#141478"/>
<circle cx="583.70" cy="245.00" r="1.8" fill="#141478"/>
<circle cx="600.30" cy="251.30" r="1.8" fill="#141478"/>
<circle cx="610.70" cy="252.30" r="1.8" fill="#141478"/>
<circle cx="614.00" cy="252.70" r="1.8" fill="#141478"/>
<circle cx="614.00" cy="256.30" r="1.8" fill="#141478"/>
<circle cx="597.00" cy="266.00" r="1.8" fill="#141478"/>
<circle cx="603.70" cy="272.00" r="1.8" fill="#141478"/>
<circle cx="573.30" cy="284.00" r="1.8" fill="#141478"/>
<circle cx="576.70" cy="291.30" r="1.8" fill="#141478"/>
<circle cx="614.00" cy="300.00" r="1.8" fill="#141478"/>
<circle cx="586.70" cy="308.30" r="1.8" fill="#141478"/>
<circle cx="597.00" cy="316.00" r="1.8" fill="#141478"/>
<circle cx="610.70" cy="318.00" r="1.8" fill="#141478"/>
<circle cx="610.70" cy="323.30" r="1.8" fill="#141478"/>
<circle cx="627.30" cy="317.70" r="1.8" fill="#141478"/>
<circle cx="586.70" cy="335.00" r="1.8" fill="#141478"/>
<circle cx="590.00" cy="335.00" r="1.8" fill="#141478"/>
<circle cx="597.00" cy="335.00" r="1.8" fill="#141478"/>
<circle cx="617.30" cy="335.00" r="1.8" fill="#141478"/>
<text x="582.60" y="359.60" font-size="9.5" text-anchor="middle" font-weight="bold" fill="#000" >MOAD (mm)</text>
<text x="458.30" y="192.70" font-size="10.2" text-anchor="start" font-weight="bold" fill="#000" >F</text>
<circle cx="530.30" cy="201.30" r="2.5" fill="#ee1c1c"/>
<circle cx="530.30" cy="211.90" r="2.5" fill="#1a1ae6"/>
<text x="536.90" y="204.40" font-size="8.8" text-anchor="start" font-weight="bold" fill="#000" >TAV - <tspan font-weight="normal">ρ</tspan> = -0.145 p = 0.436</text>
<text x="536.90" y="215.00" font-size="8.8" text-anchor="start" font-weight="bold" fill="#000" >BAV - <tspan font-weight="normal">ρ</tspan> = -0.357 p = 0.035</text>
<text transform="translate(464.60,271.10) rotate(-90)" font-size="10.0" font-weight="bold" text-anchor="middle">Vessel Density (#/mm<tspan font-size="6.20" dy="-3.80">2</tspan><tspan dy="3.80">)</tspan></text>
</svg></body></html>
